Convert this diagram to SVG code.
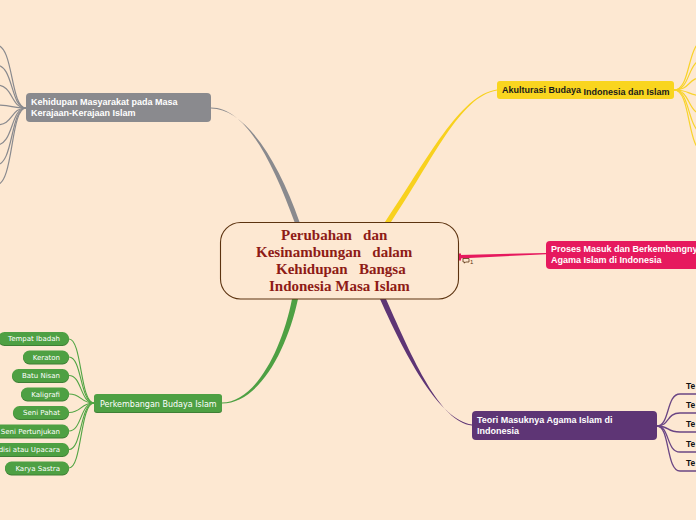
<svg xmlns="http://www.w3.org/2000/svg" width="696" height="520" viewBox="0 0 696 520">
<style>
.bold{font-family:"Liberation Sans",Arial,sans-serif;font-weight:bold;font-size:9px}
.wt{fill:#ffffff}
.leaf{font-family:"DejaVu Sans",Verdana,sans-serif;font-size:7px;fill:#ffffff;text-anchor:end}
.ctr{font-family:"Liberation Serif","Times New Roman",serif;font-weight:bold;font-size:15px;fill:#8E1B16;white-space:pre}
.gl{fill:none;stroke:#8A8A8E;stroke-width:1.2}
.yl{fill:none;stroke:#F8D32A;stroke-width:1.2}
.pl{fill:none;stroke:#6A4584;stroke-width:1.3}
.grl{fill:none;stroke:#52A544;stroke-width:1.1}
.pill{fill:#4EA043}
.pillsh{fill:#3E7F35}
</style>
<rect x="0" y="0" width="696" height="520" fill="#FDE8D2"/>

<g id="connectors">
  <!-- main tapered branches -->
  <path d="M 294.5 222 C 272 160, 245 107.5, 211 107.5 L 211 108.5 C 245 108.5, 278 160, 299.5 222 Z" fill="#8A8A8E"/>
  <path d="M 385 222 C 427 160, 460 94.5, 497 89.5 L 497 90.5 C 460 96, 433 160, 391 222 Z" fill="#F8D11E"/>
  <path d="M 292 299 C 282 350, 255 402.5, 222 402.5 L 222 403.5 C 259 403.5, 287 350, 298 299 Z" fill="#4EA043"/>
  <path d="M 380 299 C 407 360, 440 420, 472 424.5 L 472 425.5 C 440 422, 413 360, 386 299 Z" fill="#5E3575"/>
  <path d="M 459 255 L 546 253 L 546 254.2 L 459 258.5 Z" fill="#E6195E"/>
  <rect x="458.5" y="253.5" width="2.5" height="7" fill="#E6195E"/>

  <!-- gray sub-branches -->
  <path class="gl" d="M 26 108 C 10 108, 14 45, -4 45"/>
  <path class="gl" d="M 26 108 C 10 108, 14 65, -4 65"/>
  <path class="gl" d="M 26 108 C 10 108, 14 85, -4 85"/>
  <path class="gl" d="M 26 108 C 10 108, 14 105, -4 105"/>
  <path class="gl" d="M 26 108 C 10 108, 14 125, -4 125"/>
  <path class="gl" d="M 26 108 C 10 108, 14 145, -4 145"/>
  <path class="gl" d="M 26 108 C 10 108, 14 165, -4 165"/>
  <path class="gl" d="M 26 108 C 10 108, 14 185, -4 185"/>

  <!-- yellow sub-branches -->
  <path class="yl" d="M 674 90 C 692 90, 686 40, 706 40"/>
  <path class="yl" d="M 674 90 C 692 90, 686 59, 706 59"/>
  <path class="yl" d="M 674 90 C 692 90, 686 77, 706 77"/>
  <path class="yl" d="M 674 90 C 692 90, 686 96, 706 96"/>
  <path class="yl" d="M 674 90 C 692 90, 686 115, 706 115"/>
  <path class="yl" d="M 674 90 C 692 90, 686 134, 706 134"/>
  <path class="yl" d="M 674 90 C 692 90, 686 153, 706 153"/>

  <!-- purple sub-branches -->
  <path class="pl" d="M 657 426 C 670 426, 666 394, 680 394 L 700 394"/>
  <path class="pl" d="M 657 426 C 670 426, 666 413, 680 413 L 700 413"/>
  <path class="pl" d="M 657 426 C 670 426, 666 432, 680 432 L 700 432"/>
  <path class="pl" d="M 657 426 C 670 426, 666 452, 680 452 L 700 452"/>
  <path class="pl" d="M 657 426 C 670 426, 666 471, 680 471 L 700 471"/>

  <!-- green sub-branches -->
  <path class="grl" d="M 94 403 C 80 403, 82 339, 69 339"/>
  <path class="grl" d="M 94 403 C 80 403, 82 357, 69 357"/>
  <path class="grl" d="M 94 403 C 80 403, 82 375.5, 69 375.5"/>
  <path class="grl" d="M 94 403 C 80 403, 82 394, 69 394"/>
  <path class="grl" d="M 94 403 C 80 403, 82 412.5, 69 412.5"/>
  <path class="grl" d="M 94 403 C 80 403, 82 431, 69 431"/>
  <path class="grl" d="M 94 403 C 80 403, 82 449.5, 69 449.5"/>
  <path class="grl" d="M 94 403 C 80 403, 82 468, 69 468"/>
</g>

<g id="comment-icon">
  <path d="M 463 258.5 h 6 v 3.5 h -3.5 l -1 1.2 v -1.2 h -1.5 z" fill="none" stroke="#5C3310" stroke-width="0.8"/>
  <text x="470" y="263.5" font-family="Liberation Sans,Arial,sans-serif" font-size="6" fill="#5C3310">1</text>
</g>

<g id="center">
  <rect x="220.5" y="222.5" width="238" height="76.5" rx="20" fill="#FDE8D2" stroke="#5C3310" stroke-width="1.1"/>
  <text class="ctr" x="281" y="240">Perubahan   dan</text>
  <text class="ctr" x="256" y="257">Kesinambungan   dalam</text>
  <text class="ctr" x="276" y="274">Kehidupan   Bangsa</text>
  <text class="ctr" x="269" y="291">Indonesia Masa Islam</text>
</g>

<g id="kehidupan">
  <rect x="26" y="93" width="185" height="29" rx="4" fill="#8A8A8E"/>
  <text class="bold wt" x="31" y="104.5">Kehidupan Masyarakat pada Masa</text>
  <text class="bold wt" x="31" y="115.5">Kerajaan-Kerajaan Islam</text>
</g>

<g id="akulturasi">
  <rect x="497" y="81" width="177" height="18" rx="3" fill="#F9D51F"/>
  <text class="bold" x="502" y="93" fill="#1A1A1A">Akulturasi Budaya <tspan dy="1.5">Indonesia dan Islam</tspan></text>
</g>

<g id="proses">
  <rect x="546" y="241" width="160" height="28" rx="4" fill="#E6195E"/>
  <text class="bold wt" x="551" y="251.5">Proses <tspan dy="0.8">Masuk dan Berkembangnya</tspan></text>
  <text class="bold wt" x="551" y="263">Agama Islam di Indonesia</text>
</g>

<g id="teori">
  <rect x="472" y="411" width="185" height="29" rx="4" fill="#5E3575"/>
  <text class="bold wt" x="477" y="422.5">Teori Masuknya Agama Islam di</text>
  <text class="bold wt" x="477" y="433.5">Indonesia</text>
</g>

<g id="teori-items" font-family="Liberation Sans,Arial,sans-serif" font-weight="bold" font-size="8.5" fill="#111111">
  <text x="686" y="388.5">Te</text>
  <text x="686" y="408">Te</text>
  <text x="686" y="427">Te</text>
  <text x="686" y="446.5">Te</text>
  <text x="686" y="466">Te</text>
</g>

<g id="perkembangan">
  <rect x="94" y="395" width="128" height="18" rx="3" fill="#3E7F35"/>
  <rect x="94" y="394" width="128" height="18" rx="3" fill="#4EA043"/>
  <text x="100" y="406.5" font-family="DejaVu Sans,Verdana,sans-serif" font-size="8" fill="#ffffff">Perkembangan Budaya Islam</text>
</g>

<g id="tempat-ibadah"><rect class="pillsh" x="-2" y="333" width="71" height="13" rx="6.5"/><rect class="pill" x="-2" y="332" width="71" height="13" rx="6.5"/><text class="leaf" x="60" y="341">Tempat Ibadah</text></g>
<g id="keraton"><rect class="pillsh" x="23" y="351.5" width="46" height="13" rx="6.5"/><rect class="pill" x="23" y="350.5" width="46" height="13" rx="6.5"/><text class="leaf" x="60" y="359.5">Keraton</text></g>
<g id="batu-nisan"><rect class="pillsh" x="12" y="370" width="57" height="13" rx="6.5"/><rect class="pill" x="12" y="369" width="57" height="13" rx="6.5"/><text class="leaf" x="60" y="378">Batu Nisan</text></g>
<g id="kaligrafi"><rect class="pillsh" x="21" y="388.5" width="48" height="13" rx="6.5"/><rect class="pill" x="21" y="387.5" width="48" height="13" rx="6.5"/><text class="leaf" x="60" y="396.5">Kaligrafi</text></g>
<g id="seni-pahat"><rect class="pillsh" x="13" y="407" width="56" height="13" rx="6.5"/><rect class="pill" x="13" y="406" width="56" height="13" rx="6.5"/><text class="leaf" x="60" y="415">Seni Pahat</text></g>
<g id="seni-pertunjukan"><rect class="pillsh" x="-6" y="425.5" width="75" height="13" rx="6.5"/><rect class="pill" x="-6" y="424.5" width="75" height="13" rx="6.5"/><text class="leaf" x="60" y="433.5">Seni Pertunjukan</text></g>
<g id="tradisi"><rect class="pillsh" x="-10" y="444" width="79" height="13" rx="6.5"/><rect class="pill" x="-10" y="443" width="79" height="13" rx="6.5"/><text class="leaf" x="60" y="452">disi atau Upacara</text></g>
<g id="karya-sastra"><rect class="pillsh" x="5" y="462.5" width="64" height="13" rx="6.5"/><rect class="pill" x="5" y="461.5" width="64" height="13" rx="6.5"/><text class="leaf" x="60" y="470.5">Karya Sastra</text></g>
</svg>
